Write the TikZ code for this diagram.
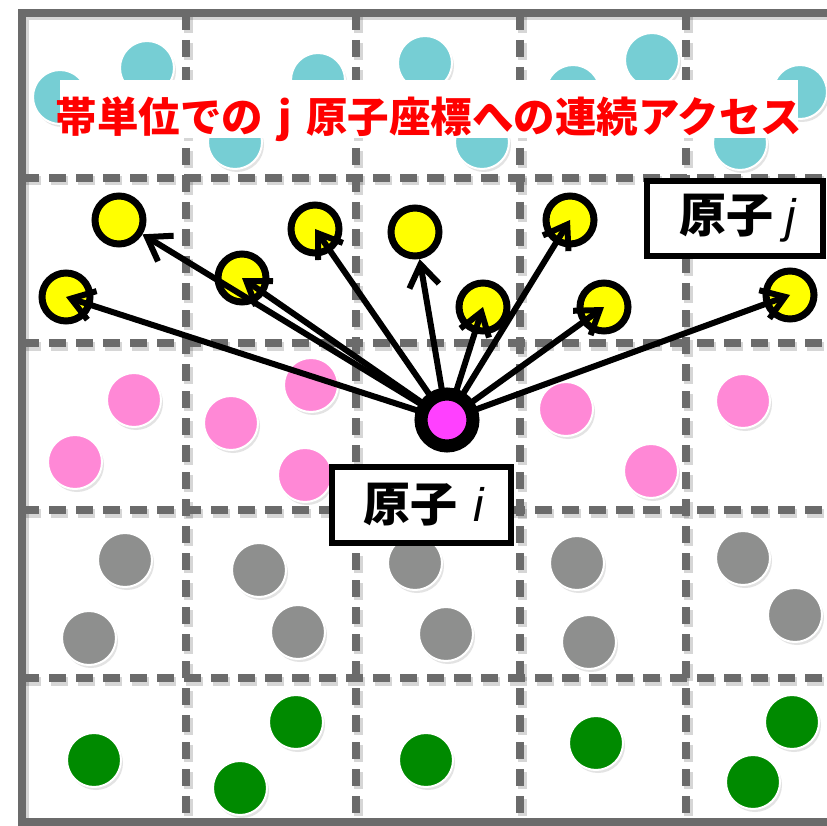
\documentclass[tikz,border=0pt]{standalone}
\usepackage{fontspec}
\setmainfont{Liberation Sans}
\newfontfamily\cjk{Noto Sans CJK JP}
\usepackage{tikz}
\usetikzlibrary{arrows.meta,shadows}
\definecolor{frame}{HTML}{6B6B6B}
\definecolor{cyanatom}{HTML}{76CED4}
\definecolor{pinkatom}{HTML}{FF88D6}
\definecolor{grayatom}{HTML}{8E8F8E}
\definecolor{greenatom}{HTML}{008A00}
\definecolor{yellowatom}{HTML}{FFFF00}
\definecolor{centreatom}{HTML}{FF40FF}
\definecolor{titlered}{HTML}{FF0000}

\begin{document}
\begin{tikzpicture}[x=1pt,y=-1pt,line cap=butt,
   grid/.style={draw=frame,line width=7.5pt},
   cell/.style={grid,dash pattern=on 17pt off 10pt},
   lineshade/.style={draw=black,opacity=0.16,line width=9pt,xshift=2pt,yshift=-3pt},
   atom/.style={circle,draw=white,line width=2pt,minimum size=54pt,inner sep=0pt,
     drop shadow={shadow xshift=2pt,shadow yshift=-3pt,opacity=0.22}},
   cyan/.style={atom,fill=cyanatom},
   pink/.style={atom,fill=pinkatom},
   grey/.style={atom,fill=grayatom},
   green/.style={atom,fill=greenatom},
   jatom/.style={atom,draw=black,line width=7pt,fill=yellowatom,minimum size=48pt},
   iatom/.style={circle,draw=black,line width=13pt,fill=centreatom,minimum size=52pt,inner sep=0pt},
   reach/.style={-{Straight Barb[length=22pt,width=30pt]},draw=black,line width=6pt},
   tag/.style={draw=black,fill=white,line width=5.5pt,inner sep=0pt,
     font=\fontsize{47}{49}\selectfont}]
 \useasboundingbox (0,0) rectangle (827,826);
 \fill[white] (0,0) rectangle (827,826);
 \draw[cell,lineshade] (186,13) -- (186,822);
 \draw[cell,lineshade] (356,13) -- (356,822);
 \draw[cell,lineshade] (520,13) -- (520,822);
 \draw[cell,lineshade] (686,13) -- (686,822);
 \draw[cell,lineshade] (22,178) -- (840,178);
 \draw[cell,lineshade] (22,343) -- (840,343);
 \draw[cell,lineshade] (22,510) -- (840,510);
 \draw[cell,lineshade] (22,678) -- (840,678);
 \draw[grid,lineshade] (840,13) -- (22,13) -- (22,822) -- (840,822);
 \draw[cell] (186,13) -- (186,822);
 \draw[cell] (356,13) -- (356,822);
 \draw[cell] (520,13) -- (520,822);
 \draw[cell] (686,13) -- (686,822);
 \draw[cell] (22,178) -- (840,178);
 \draw[cell] (22,343) -- (840,343);
 \draw[cell] (22,510) -- (840,510);
 \draw[cell] (22,678) -- (840,678);
 \draw[grid] (840,13) -- (22,13) -- (22,822) -- (840,822);
 \node[cyan] (c1) at (60,97) {};
 \node[cyan] (c2) at (147,68) {};
 \node[cyan] (c3) at (235,142) {};
 \node[cyan] (c4) at (318,80) {};
 \node[cyan] (c5) at (425,63) {};
 \node[cyan] (c6) at (482,142) {};
 \node[cyan] (c7) at (573,92) {};
 \node[cyan] (c8) at (652,60) {};
 \node[cyan] (c9) at (740,143) {};
 \node[cyan] (c10) at (800,92) {};
 \node[pink] (p1) at (134,400) {};
 \node[pink] (p2) at (75,462) {};
 \node[pink] (p3) at (231,423) {};
 \node[pink] (p4) at (311,385) {};
 \node[pink] (p5) at (305,475) {};
 \node[pink] (p6) at (566,409) {};
 \node[pink] (p7) at (651,471) {};
 \node[pink] (p8) at (743,401) {};
 \node[grey] (g1) at (125,560) {};
 \node[grey] (g2) at (89,638) {};
 \node[grey] (g3) at (259,570) {};
 \node[grey] (g4) at (298,632) {};
 \node[grey] (g5) at (415,563) {};
 \node[grey] (g6) at (446,634) {};
 \node[grey] (g7) at (577,563) {};
 \node[grey] (g8) at (589,642) {};
 \node[grey] (g9) at (743,558) {};
 \node[grey] (g10) at (795,615) {};
 \node[green] (n1) at (94,760) {};
 \node[green] (n2) at (296,722) {};
 \node[green] (n3) at (240,788) {};
 \node[green] (n4) at (426,760) {};
 \node[green] (n5) at (596,743) {};
 \node[green] (n6) at (792,722) {};
 \node[green] (n7) at (753,782) {};
 \node[fill=white,minimum width=738pt,minimum height=58pt,inner sep=0pt] (band) at (429,109) {};
 \node[text=titlered,font=\fontsize{41.5}{44}\selectfont\bfseries] (title) at (429,119)
   {\cjk 帯単位での\hspace{15pt}j\hspace{15pt}原子座標への連続アクセス};
 \node[jatom] (ya) at (119,220) {};
 \node[jatom] (yb) at (66,297) {};
 \node[jatom] (yc) at (242,278) {};
 \node[jatom] (yd) at (315,229) {};
 \node[jatom] (ye) at (415,232) {};
 \node[jatom] (yf) at (483,307) {};
 \node[jatom] (yg) at (570,220) {};
 \node[jatom] (yh) at (604,307) {};
 \node[jatom] (yk) at (790,295) {};
 \coordinate (ic) at (447,420);
 \draw[reach] (ic) -- (ya);
 \draw[reach] (ic) -- (yb.center);
 \draw[reach] (ic) -- (yc.center);
 \draw[reach] (ic) -- (yd.center);
 \draw[reach] (ic) -- (ye);
 \draw[reach] (ic) -- (yf.center);
 \draw[reach] (ic) -- (yg.center);
 \draw[reach] (ic) -- (yh.center);
 \draw[reach] (ic) -- (yk.center);
 \node[iatom] (i) at (ic) {};
 \node[tag,minimum width=176pt,minimum height=75pt] (jlabel) at (735,218.5)
   {\hspace{6pt}{\cjk\bfseries 原子}\hspace{12pt}\textit{j}};
 \node[tag,minimum width=179pt,minimum height=76pt] (ilabel) at (421.5,505)
   {\hspace{6pt}{\cjk\bfseries 原子}\hspace{16pt}\textit{i}};
\end{tikzpicture}
\end{document}
